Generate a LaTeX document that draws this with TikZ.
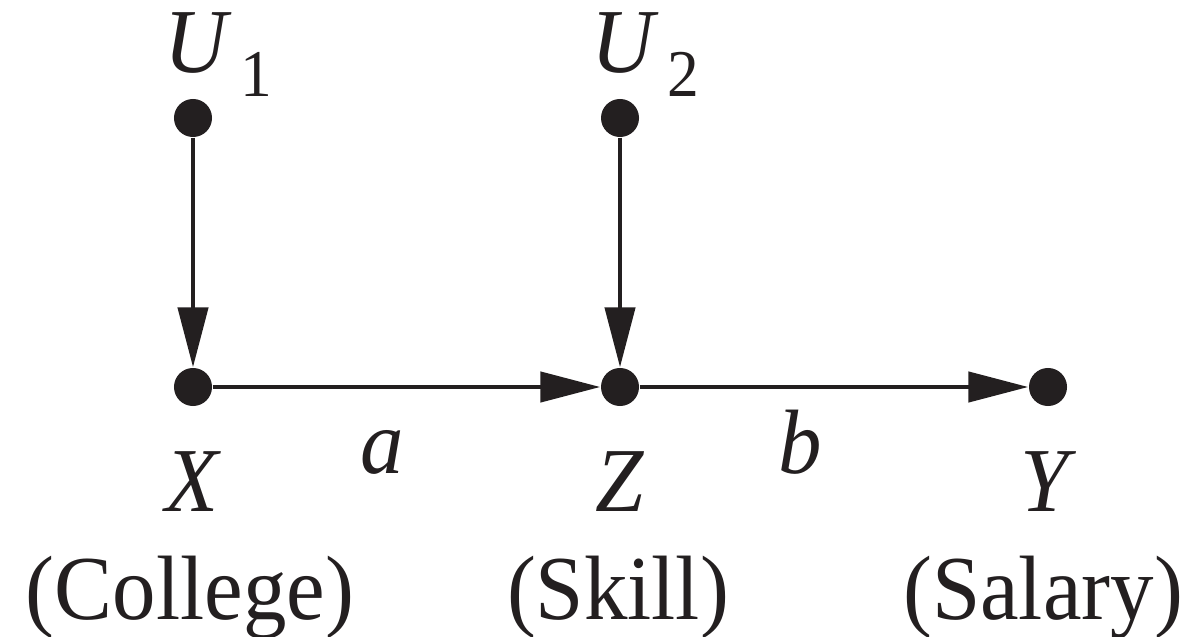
\documentclass[tikz,border=0pt]{standalone}
\usepackage{fontspec}
\setmainfont{Liberation Serif}[FakeStretch=0.95]
\usetikzlibrary{arrows.meta}
\definecolor{ink}{HTML}{231F20}
\begin{document}
\begin{tikzpicture}[x=0.01cm,y=-0.01cm,
  dot/.style={circle,fill=ink,inner sep=0pt,minimum size=0.38cm},
  edge/.style={draw=ink,line width=0.045cm,-{Triangle[length=0.6cm,width=0.3cm]}},
  lbl/.style={inner sep=0pt,text=ink,font=\fontsize{26}{31}\selectfont},
]
\useasboundingbox (0,0) rectangle (1201,637);
\node[dot] (u1) at (193,118) {};
\node[dot] (u2) at (620,118) {};
\node[dot] (x) at (193,387) {};
\node[dot] (z) at (620,387) {};
\node[dot] (y) at (1048,387) {};
\draw[edge] (u1) -- (x);
\draw[edge] (u2) -- (z);
\draw[edge] (x) -- (z);
\draw[edge] (z) -- (y);
\node[lbl,anchor=base west] (lu1) at (164,73) {\textit{U}\hspace{0.08cm}\raisebox{-0.23cm}{\fontsize{19}{23}\selectfont 1}};
\node[lbl,anchor=base west] (lu2) at (591,73) {\textit{U}\hspace{0.08cm}\raisebox{-0.23cm}{\fontsize{19}{23}\selectfont 2}};
\node[lbl,anchor=base] (lx) at (193,511) {\textit{X}};
\node[lbl,anchor=base] (la) at (382,473) {\textit{a}};
\node[lbl,anchor=base] (lz) at (620,511) {\textit{Z}};
\node[lbl,anchor=base] (lb) at (800,473) {\textit{b}};
\node[lbl,anchor=base] (ly) at (1048,511) {\textit{Y}};
\node[lbl,anchor=base] (lc) at (190,619) {(College)};
\node[lbl,anchor=base] (ls) at (618,619) {(Skill)};
\node[lbl,anchor=base] (lsa) at (1043,619) {(Salary)};
\end{tikzpicture}
\end{document}
